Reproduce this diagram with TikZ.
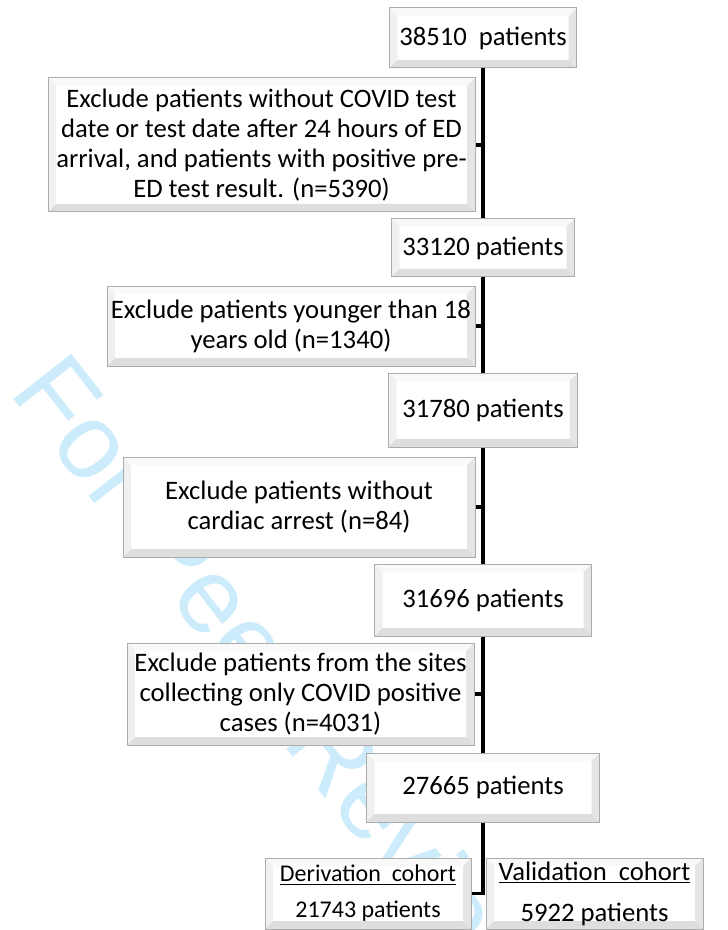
\documentclass[tikz,border=0pt]{standalone}
\usepackage{fontspec}
\setmainfont{Carlito}
\newfontfamily\wmfont{Liberation Sans}
\usepackage{tikz}
\usetikzlibrary{calc}
\usepackage{xcolor}
\definecolor{wmcyan}{RGB}{204,236,252}

\begin{document}
\begin{tikzpicture}[x=0.75pt,y=-0.75pt,
	bevelbox/.style={draw=gray!65,line width=0.75pt,fill=white,inner sep=0pt,align=center,
		font=\fontsize{20}{22.5}\selectfont,
		path picture={
			\path (path picture bounding box.north west) coordinate (bnw)
				(path picture bounding box.north east) coordinate (bne)
				(path picture bounding box.south west) coordinate (bsw)
				(path picture bounding box.south east) coordinate (bse);
			\fill[gray!5] (bnw) -- (bne) -- ([shift={(-\bv,-\bv)}]bne) -- ([shift={(\bv,-\bv)}]bnw) -- cycle;
			\fill[gray!12] (bnw) -- (bsw) -- ([shift={(\bv,\bv)}]bsw) -- ([shift={(\bv,-\bv)}]bnw) -- cycle;
			\fill[gray!20] (bne) -- (bse) -- ([shift={(-\bv,\bv)}]bse) -- ([shift={(-\bv,-\bv)}]bne) -- cycle;
			\fill[gray!26] (bsw) -- (bse) -- ([shift={(-\bv,\bv)}]bse) -- ([shift={(\bv,\bv)}]bsw) -- cycle;
		}},
	boxsize/.style 2 args={minimum width=#1*0.75pt,minimum height=#2*0.75pt},
	trunk/.style={line width=2.6pt}]
			\def\bv{6pt}
			\useasboundingbox (0,0) rectangle (727,930);
			
			\begin{scope}
			\clip (0,0) rectangle (727,930);
			\node[wmcyan,rotate=-52,anchor=base west,inner sep=0pt,font=\wmfont\fontsize{80}{80}\selectfont] (wm) at (8,392) {For Peer Review};
			\end{scope}
			
			\node[bevelbox,boxsize={187}{60}] (tot) at (483,38) {38510\ \ patients};
			\node[bevelbox,boxsize={427}{134}] (exA) at (261.5,145) {Exclude patients without COVID test\\ date or test date after 24 hours of ED\\ arrival, and patients with positive pre-\\ ED test result. (n=5390)};
			\node[bevelbox,boxsize={183}{58}] (n2) at (483,248) {33120 patients};
			\node[bevelbox,boxsize={368}{80}] (exB) at (291,326) {Exclude patients younger than 18\\ years old (n=1340)};
			\node[bevelbox,boxsize={189}{74}] (n3) at (483,410) {31780 patients};
			\node[bevelbox,boxsize={352}{100}] (exC) at (299,507) {Exclude patients without\\ cardiac arrest (n=84)};
			\node[bevelbox,boxsize={217}{72}] (n4) at (483,600) {31696 patients};
			\node[bevelbox,boxsize={347}{102}] (exD) at (300.5,694) {Exclude patients from the sites\\ collecting only COVID positive\\ cases (n=4031)};
			\node[bevelbox,boxsize={233}{69}] (n5) at (483,787.5) {27665 patients};
			\node[bevelbox,boxsize={206}{71},font=\fontsize{18}{27}\selectfont] (der) at (368,893.5) {\underline{Derivation\ \ cohort}\\ 21743 patients};
			\node[bevelbox,boxsize={217}{71},font=\fontsize{20}{30.75}\selectfont] (val) at (594.5,893.5) {\underline{Validation\ \ cohort}\\ 5922 patients};
			
			\draw[trunk] (tot.south) -- (n2.north);
			\draw[trunk] (n2.south) -- (n3.north);
			\draw[trunk] (n3.south) -- (n4.north);
			\draw[trunk] (n4.south) -- (n5.north);
			\draw[trunk] (n5.south) |- (der.east);
			
			\draw[trunk] (exA.east) -- (exA.east -| tot.south);
			\draw[trunk] (exB.east) -- (exB.east -| tot.south);
			\draw[trunk] (exC.east) -- (exC.east -| tot.south);
			\draw[trunk] (exD.east) -- (exD.east -| tot.south);
\end{tikzpicture}
\end{document}
